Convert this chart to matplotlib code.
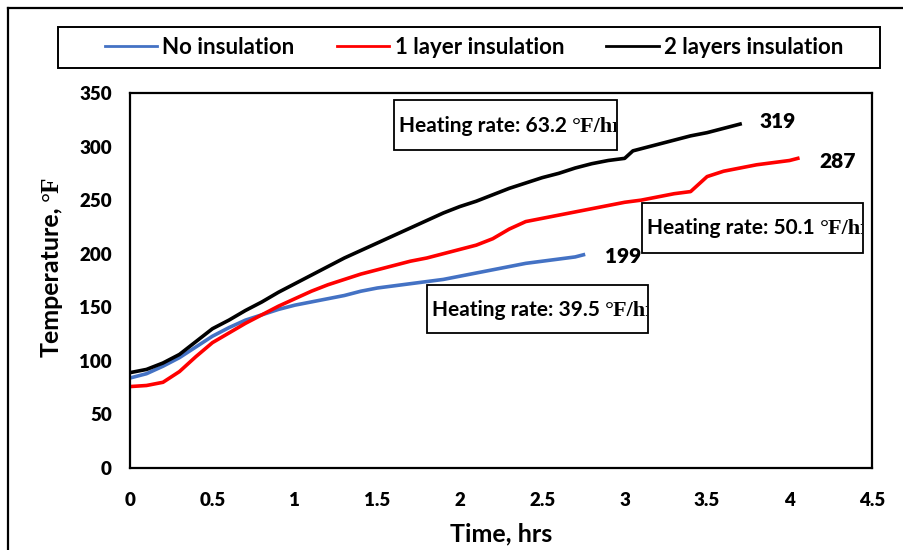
import matplotlib
matplotlib.use("Agg")
import matplotlib.pyplot as plt
from matplotlib.patches import Rectangle
from matplotlib.lines import Line2D
from matplotlib.offsetbox import TextArea, HPacker, AnnotationBbox
from matplotlib.transforms import Bbox, TransformedBbox

# ---------------- data ----------------
series_names = ["No insulation", "1 layer insulation", "2 layers insulation"]
series_colors = ["#4472C4", "#FF0000", "#000000"]

t_none = [0.0, 0.1, 0.2, 0.3, 0.4, 0.5, 0.6, 0.7, 0.8, 0.9, 1.0, 1.1, 1.2, 1.3, 1.4,
          1.5, 1.6, 1.7, 1.8, 1.9, 2.0, 2.1, 2.2, 2.3, 2.4, 2.5, 2.6, 2.7, 2.75]
temp_none = [84, 88, 95, 103, 113, 123, 131, 138, 143, 148, 152, 155, 158, 161, 165,
             168, 170, 172, 174, 176, 179, 182, 185, 188, 191, 193, 195, 197, 199]

t_one = [0.0, 0.1, 0.2, 0.3, 0.4, 0.5, 0.6, 0.7, 0.8, 0.9, 1.0, 1.1, 1.2, 1.3, 1.4,
         1.5, 1.6, 1.7, 1.8, 1.9, 2.0, 2.1, 2.2, 2.3, 2.4, 2.5, 2.6, 2.7, 2.8, 2.9,
         3.0, 3.1, 3.2, 3.3, 3.4, 3.45, 3.5, 3.6, 3.7, 3.8, 3.9, 4.0, 4.05]
temp_one = [76, 77, 80, 90, 104, 117, 126, 135, 143, 151, 158, 165, 171, 176, 181,
            185, 189, 193, 196, 200, 204, 208, 214, 223, 230, 233, 236, 239, 242, 245,
            248, 250, 253, 256, 258, 265, 272, 277, 280, 283, 285, 287, 289]

t_two = [0.0, 0.1, 0.2, 0.3, 0.4, 0.5, 0.6, 0.7, 0.8, 0.9, 1.0, 1.1, 1.2, 1.3, 1.4,
         1.5, 1.6, 1.7, 1.8, 1.9, 2.0, 2.1, 2.2, 2.3, 2.4, 2.5, 2.6, 2.7, 2.8, 2.9,
         3.0, 3.05, 3.1, 3.2, 3.3, 3.4, 3.5, 3.6, 3.7]
temp_two = [89, 92, 98, 106, 118, 130, 138, 147, 155, 164, 172, 180, 188, 196, 203,
            210, 217, 224, 231, 238, 244, 249, 255, 261, 266, 271, 275, 280, 284, 287,
            289, 296, 298, 302, 306, 310, 313, 317, 321]

end_labels = ["199", "287", "319"]
rate_labels = ["Heating rate: 39.5 ", "Heating rate: 50.1 ", "Heating rate: 63.2 "]
rate_unit = "°F/hr"

x_ticks = [0, 0.5, 1, 1.5, 2, 2.5, 3, 3.5, 4, 4.5]
x_ticklabels = ["0", "0.5", "1", "1.5", "2", "2.5", "3", "3.5", "4", "4.5"]
y_ticks = [0, 50, 100, 150, 200, 250, 300, 350]

# ---------------- figure ----------------
W, H = 904, 550
fig = plt.figure(figsize=(W / 100, H / 100), dpi=100)

def fx(px):
    return px / W

def fy(py):
    return 1 - py / H

SANS = "Lato"
SERIF = "Liberation Serif"

ax = fig.add_axes([fx(130), fy(468), fx(872) - fx(130), fy(93) - fy(468)])
ax.set_xlim(0, 4.5)
ax.set_ylim(0, 350)

for (tt, vv), c, n in zip([(t_none, temp_none), (t_one, temp_one), (t_two, temp_two)],
                          series_colors, series_names):
    ax.plot(tt, vv, color=c, lw=2.6, label=n, solid_joinstyle="round")

ax.set_xticks(x_ticks)
ax.set_xticklabels(x_ticklabels)
ax.set_yticks(y_ticks)
for lab in ax.get_xticklabels() + ax.get_yticklabels():
    lab.set_fontfamily(SANS)
    lab.set_fontweight("heavy")
    lab.set_fontsize(13.5)
ax.tick_params(axis="x", length=0, pad=17)
ax.tick_params(axis="y", length=0, pad=13)
for s in ax.spines.values():
    s.set_linewidth(1.6)
    s.set_color("black")

ax.set_xlabel("Time, hrs", fontfamily=SANS, fontweight="bold", fontsize=18, labelpad=10)

# y label: sans part + serif degree part
fig.text(fx(51), fy(282), "Temperature,", rotation=90, ha="center", va="center",
         fontfamily=SANS, fontweight="bold", fontsize=18)
fig.text(fx(51), fy(188), "°F", rotation=90, ha="center", va="center",
         fontfamily=SERIF, fontweight="bold", fontsize=18)

# end value labels
lbl_kw = dict(ha="center", va="center", fontfamily=SANS, fontweight="heavy", fontsize=15)
ax.text(2.99, 197, end_labels[0], **lbl_kw)
ax.text(4.29, 285.6, end_labels[1], **lbl_kw)
ax.text(3.93, 323, end_labels[2], **lbl_kw)

# heating-rate boxes (pixel boxes: x0, y0, x1, y1)
boxes = [(427, 285, 648, 333), (642, 203, 863, 253), (394, 100, 617, 150)]
for (x0, y0, x1, y1), lab in zip(boxes, rate_labels):
    fig.add_artist(Rectangle((fx(x0), fy(y1)), fx(x1) - fx(x0), fy(y0) - fy(y1),
                             transform=fig.transFigure, fill=True, facecolor="white",
                             edgecolor="black", lw=1.3, zorder=5))
    t1 = TextArea(lab, textprops=dict(fontfamily=SANS, fontweight="bold", fontsize=15))
    t2 = TextArea(rate_unit, textprops=dict(fontfamily=SERIF, fontweight="bold", fontsize=16))
    clip = TransformedBbox(Bbox([[fx(x0), fy(y1)], [fx(x1 - 1), fy(y0)]]), fig.transFigure)
    for ta in (t1, t2):
        ta._text.set_clip_box(clip)
        ta._text.set_clip_on(True)
    pk = HPacker(children=[t1, t2], align="baseline", pad=0, sep=0)
    ab = AnnotationBbox(pk, (fx(x0 + 5), fy((y0 + y1) / 2 + 1)), xycoords="figure fraction",
                        box_alignment=(0, 0.5), frameon=False, pad=0, zorder=6)
    fig.add_artist(ab)

# legend
handles = [Line2D([], [], color=c, lw=2) for c in series_colors]
leg = fig.legend(handles, series_names, loc="center", bbox_to_anchor=(fx(474), fy(47)),
                 ncol=3, frameon=False, columnspacing=1.9, handlelength=2.35,
                 handletextpad=0.25, prop=dict(family=SANS, weight="bold", size=16))
fig.add_artist(Rectangle((fx(58), fy(68)), fx(880) - fx(58), fy(27) - fy(68),
                         transform=fig.transFigure, fill=False, edgecolor="black", lw=1.4))

# outer frame (left & top edges visible)
fig.add_artist(Line2D([fx(8), fx(8)], [fy(8), 0], transform=fig.transFigure,
                      color="black", lw=1.6))
fig.add_artist(Line2D([fx(8), 1], [fy(8), fy(8)], transform=fig.transFigure,
                      color="black", lw=1.6))

fig.savefig("out.png", dpi=100, facecolor="white")
